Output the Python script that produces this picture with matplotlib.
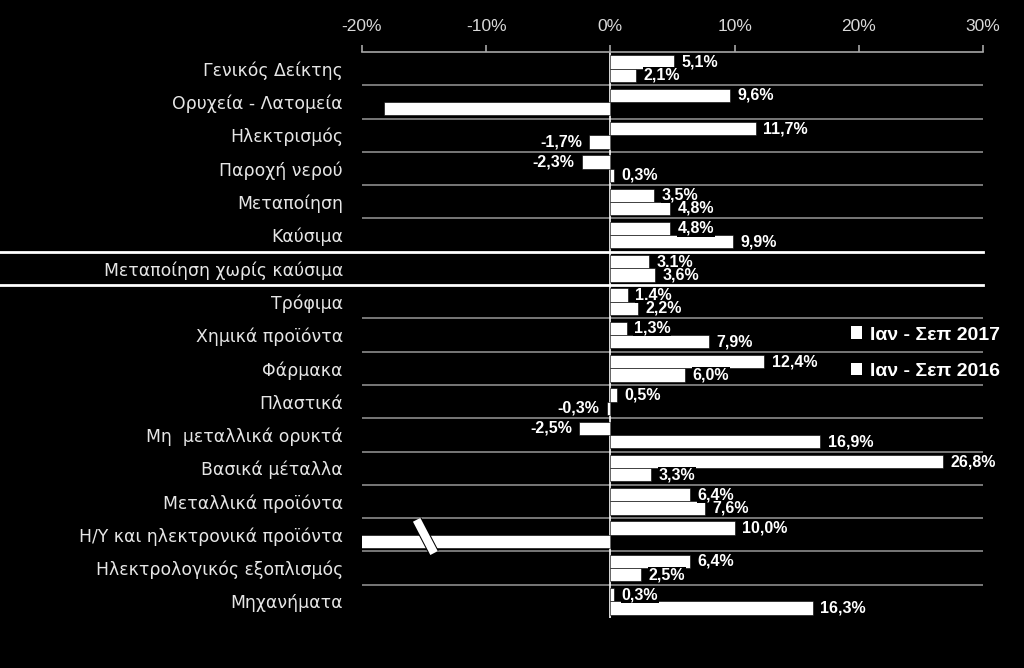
import numpy as np
import matplotlib
matplotlib.use("Agg")
from matplotlib import pyplot as plt
from matplotlib.patches import Rectangle
import matplotlib.patheffects as pe

plt.rcParams['font.family'] = ['Liberation Sans', 'DejaVu Sans']

categories = [
    "Γενικός Δείκτης", "Ορυχεία - Λατομεία", "Ηλεκτρισμός", "Παροχή νερού",
    "Μεταποίηση", "Καύσιμα", "Μεταποίηση χωρίς καύσιμα", "Τρόφιμα",
    "Χημικά προϊόντα", "Φάρμακα", "Πλαστικά", "Μη  μεταλλικά ορυκτά",
    "Βασικά μέταλλα", "Μεταλλικά προϊόντα", "Η/Υ και ηλεκτρονικά προϊόντα",
    "Ηλεκτρολογικός εξοπλισμός", "Μηχανήματα",
]
jan_sep_2017 = [5.1, 9.6, 11.7, -2.3, 3.5, 4.8, 3.1, 1.4, 1.3, 12.4, 0.5,
                -2.5, 26.8, 6.4, 10.0, 6.4, 0.3]
jan_sep_2016 = [2.1, -18.2, -1.7, 0.3, 4.8, 9.9, 3.6, 2.2, 7.9, 6.0, -0.3,
                16.9, 3.3, 7.6, -45.0, 2.5, 16.3]
# bars running off the left edge: value labels hidden in the original
hidden_labels_2016 = [1, 14]
series_names = ["Ιαν - Σεπ 2017", "Ιαν - Σεπ 2016"]
x_ticks = [-20, -10, 0, 10, 20, 30]

fig = plt.figure(figsize=(10.24, 6.68), dpi=100, facecolor='black')
ax = fig.add_axes([362 / 1024, 1 - 618 / 668, (983 - 362) / 1024, (618 - 52) / 668])
ax.set_facecolor('black')

y = np.arange(len(categories))
h = 0.4
ax.barh(y - h / 2, jan_sep_2017, height=h, color='white', edgecolor='black', linewidth=0.4, zorder=3)
ax.barh(y + h / 2, jan_sep_2016, height=h, color='white', edgecolor='black', linewidth=0.4, zorder=3)

ax.set_xlim(-20, 30)
ax.set_ylim(len(categories) - 0.5, -0.5)

def fmt(v):
    return f"{v:.1f}%".replace('.', ',')

def put_label(v, yy):
    off = 0.6
    if v >= 0:
        ax.text(v + off, yy, fmt(v), ha='left', va='center', color='white',
                fontsize=11.5, fontweight='bold', zorder=4,
                bbox=dict(facecolor='black', edgecolor='none', pad=0.5))
    else:
        ax.text(v - off, yy, fmt(v), ha='right', va='center', color='white',
                fontsize=11.5, fontweight='bold', zorder=4,
                bbox=dict(facecolor='black', edgecolor='none', pad=0.5))

for i, v in enumerate(jan_sep_2017):
    put_label(v, i - h / 2)
for i, v in enumerate(jan_sep_2016):
    if i in hidden_labels_2016:
        continue
    put_label(v, i + h / 2)

# separators between categories
for b in np.arange(0.5, len(categories) - 1, 1.0):
    if b in (5.5, 6.5):
        continue
    ax.axhline(b, color='#8c8c8c', lw=1.2, zorder=2)
for b in (5.5, 6.5):
    ax.plot([0, 983 / 1024], [1 - (52 + (b + 0.5) * 566 / 17) / 668] * 2,
            transform=fig.transFigure, color='white', lw=2, clip_on=False, zorder=5)

ax.axvline(0, color='white', lw=1.2, zorder=2)

# break mark on the Η/Υ bar
ax.plot([-15.6, -14.2], [13.55, 14.55], color='white', lw=6, solid_capstyle='butt', zorder=6,
        path_effects=[pe.Stroke(linewidth=7.5, foreground='black'), pe.Normal()])

# axes styling
for s in ['bottom', 'left', 'right']:
    ax.spines[s].set_visible(False)
ax.spines['top'].set_color('#a6a6a6')
ax.spines['top'].set_linewidth(1.2)
ax.xaxis.tick_top()
ax.set_xticks(x_ticks)
ax.set_xticklabels([f"{t}%" for t in x_ticks])
ax.tick_params(axis='x', colors='#a6a6a6', labelcolor='#d9d9d9', labelsize=12.5,
               length=5, width=1.2, pad=8)
ax.set_yticks(y)
ax.set_yticklabels(categories, family=['DejaVu Sans'])
ax.tick_params(axis='y', length=0, labelcolor='#e6e6e6', labelsize=12.4, pad=13.7)

handles = [Rectangle((0, 0), 1, 1, facecolor='white', edgecolor='none') for _ in series_names]
leg = fig.legend(handles, series_names, loc='upper left', bbox_to_anchor=(833 / 1024, 1 - 309 / 668),
                 frameon=False, handlelength=0.6, handleheight=0.6, handletextpad=0.4,
                 labelspacing=1.0, prop={'weight': 'bold', 'size': 14})
for t in leg.get_texts():
    t.set_color('white')

fig.savefig('out.png', dpi=100, facecolor='black')
